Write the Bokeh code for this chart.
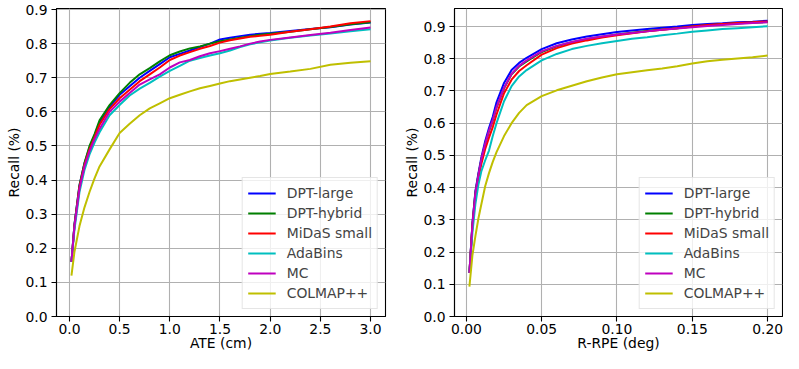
from bokeh.plotting import figure
from bokeh.layouts import row
from bokeh.models import Range1d, FixedTicker, Legend, LegendItem, NumeralTickFormatter
from bokeh.embed import file_html
from bokeh.resources import INLINE

methods = ["DPT-large", "DPT-hybrid", "MiDaS small", "AdaBins", "MC", "COLMAP++"]
colors = ["#0000ff", "#008000", "#ff0000", "#00bfbf", "#bf00bf", "#bfbf00"]

# ---- ATE (cm) ----
ate_x = [0.02, 0.05, 0.1, 0.15, 0.2, 0.25, 0.3, 0.4, 0.5, 0.6, 0.7, 0.8, 0.9, 1.0, 1.1, 1.2,
         1.3, 1.4, 1.5, 1.6, 1.7, 1.8, 1.9, 2.0, 2.2, 2.4, 2.6, 2.8, 3.0]
ate_dpt_large = [0.16, 0.27, 0.385, 0.45, 0.495, 0.53, 0.57, 0.615, 0.65, 0.675, 0.70, 0.72, 0.74,
                 0.76, 0.77, 0.78, 0.79, 0.80, 0.812, 0.817, 0.822, 0.826, 0.829, 0.831, 0.837,
                 0.843, 0.848, 0.856, 0.862]
ate_dpt_hybrid = [0.16, 0.27, 0.385, 0.45, 0.50, 0.535, 0.575, 0.62, 0.655, 0.685, 0.71, 0.728,
                  0.748, 0.766, 0.777, 0.786, 0.792, 0.80, 0.807, 0.812, 0.817, 0.822, 0.826,
                  0.829, 0.835, 0.842, 0.849, 0.857, 0.863]
ate_midas_small = [0.16, 0.265, 0.38, 0.445, 0.49, 0.525, 0.562, 0.608, 0.64, 0.665, 0.69, 0.71,
                   0.73, 0.752, 0.765, 0.775, 0.785, 0.793, 0.803, 0.81, 0.815, 0.82, 0.823,
                   0.826, 0.835, 0.842, 0.85, 0.86, 0.866]
ate_adabins = [0.16, 0.255, 0.365, 0.43, 0.475, 0.51, 0.54, 0.59, 0.62, 0.648, 0.668, 0.685,
               0.703, 0.72, 0.735, 0.75, 0.758, 0.765, 0.772, 0.78, 0.79, 0.798, 0.804, 0.809,
               0.817, 0.824, 0.83, 0.836, 0.842]
ate_mc = [0.16, 0.265, 0.375, 0.44, 0.485, 0.52, 0.55, 0.60, 0.63, 0.655, 0.68, 0.695, 0.71,
          0.73, 0.745, 0.752, 0.763, 0.772, 0.778, 0.785, 0.792, 0.80, 0.806, 0.811, 0.818,
          0.825, 0.832, 0.84, 0.847]
ate_colmap = [0.12, 0.19, 0.265, 0.32, 0.365, 0.405, 0.44, 0.49, 0.538, 0.565, 0.59, 0.61, 0.625,
              0.64, 0.65, 0.66, 0.669, 0.676, 0.683, 0.69, 0.695, 0.70, 0.705, 0.711, 0.718,
              0.726, 0.738, 0.744, 0.748]

# ---- R-RPE (deg) ----
rpe_x = [0.002, 0.004, 0.006, 0.008, 0.01, 0.0125, 0.015, 0.0175, 0.02, 0.025, 0.03, 0.035, 0.04,
         0.05, 0.06, 0.07, 0.08, 0.09, 0.1, 0.11, 0.12, 0.13, 0.14, 0.15, 0.16, 0.17, 0.18, 0.19, 0.2]
rpe_dpt_large = [0.135, 0.29, 0.39, 0.445, 0.495, 0.545, 0.585, 0.62, 0.665, 0.725, 0.765, 0.787,
                 0.803, 0.83, 0.848, 0.86, 0.869, 0.876, 0.883, 0.888, 0.892, 0.896, 0.9, 0.905,
                 0.908, 0.91, 0.913, 0.915, 0.918]
rpe_dpt_hybrid = [0.135, 0.285, 0.385, 0.44, 0.488, 0.535, 0.575, 0.608, 0.648, 0.708, 0.752,
                  0.776, 0.792, 0.821, 0.839, 0.851, 0.861, 0.868, 0.875, 0.881, 0.886, 0.891,
                  0.895, 0.9, 0.904, 0.907, 0.91, 0.912, 0.914]
rpe_midas_small = [0.135, 0.28, 0.375, 0.43, 0.475, 0.52, 0.555, 0.588, 0.627, 0.693, 0.735, 0.762,
                   0.78, 0.813, 0.833, 0.847, 0.857, 0.866, 0.873, 0.879, 0.885, 0.89, 0.895, 0.9,
                   0.905, 0.908, 0.911, 0.913, 0.916]
rpe_adabins = [0.135, 0.26, 0.35, 0.41, 0.452, 0.485, 0.515, 0.56, 0.6, 0.668, 0.715, 0.745,
               0.765, 0.795, 0.815, 0.83, 0.84, 0.848, 0.855, 0.862, 0.867, 0.873, 0.878, 0.884,
               0.888, 0.892, 0.895, 0.898, 0.901]
rpe_mc = [0.135, 0.285, 0.385, 0.44, 0.49, 0.537, 0.577, 0.61, 0.65, 0.71, 0.753, 0.778, 0.795,
          0.823, 0.84, 0.852, 0.862, 0.869, 0.875, 0.88, 0.885, 0.89, 0.894, 0.898, 0.902,
          0.905, 0.908, 0.911, 0.913]
rpe_colmap = [0.093, 0.19, 0.25, 0.305, 0.35, 0.405, 0.445, 0.48, 0.51, 0.56, 0.60, 0.632, 0.656,
              0.684, 0.702, 0.716, 0.73, 0.742, 0.752, 0.758, 0.764, 0.77, 0.777, 0.785, 0.792,
              0.797, 0.801, 0.805, 0.81]

ate_ticks = [0.0, 0.5, 1.0, 1.5, 2.0, 2.5, 3.0]
rpe_ticks = [0.0, 0.05, 0.1, 0.15, 0.2]
recall_ticks = [0.0, 0.1, 0.2, 0.3, 0.4, 0.5, 0.6, 0.7, 0.8, 0.9]

FONT = "DejaVu Sans"
FS = "13.9px"


def make_fig(width, left_border, right_border, xr, yr, xticks, xfmt, xlabel, series, xs):
    p = figure(width=width, height=353, output_backend="svg", toolbar_location=None,
               x_range=Range1d(*xr), y_range=Range1d(*yr),
               min_border_left=left_border, min_border_right=right_border,
               min_border_top=8, min_border_bottom=37)
    p.background_fill_color = "white"
    p.border_fill_color = "white"
    p.outline_line_color = "black"
    p.outline_line_width = 1.1
    p.outline_line_alpha = 1.0
    for ax in (p.xaxis[0], p.yaxis[0]):
        ax.axis_line_color = "black"
        ax.axis_line_width = 1.1
        ax.major_tick_line_color = "black"
        ax.major_tick_line_width = 1.1
        ax.major_tick_out = 5
        ax.major_tick_in = 0
        ax.minor_tick_line_color = None
        ax.major_label_text_font = FONT
        ax.major_label_text_font_size = FS
        ax.major_label_text_color = "black"
        ax.axis_label_text_font = FONT
        ax.axis_label_text_font_size = FS
        ax.axis_label_text_font_style = "normal"
        ax.axis_label_text_color = "black"
    p.xaxis[0].ticker = FixedTicker(ticks=xticks)
    p.xaxis[0].formatter = NumeralTickFormatter(format=xfmt)
    p.xaxis[0].axis_label = xlabel
    p.xaxis[0].major_label_standoff = 2
    p.xaxis[0].axis_label_standoff = -2
    p.yaxis[0].ticker = FixedTicker(ticks=recall_ticks)
    p.yaxis[0].formatter = NumeralTickFormatter(format="0.0")
    p.yaxis[0].axis_label = "Recall (%)"
    p.yaxis[0].major_label_standoff = 4
    p.yaxis[0].axis_label_standoff = 0
    for g in (p.xgrid[0], p.ygrid[0]):
        g.grid_line_color = "#b0b0b0"
        g.grid_line_width = 1.1
    items = []
    for name, col, ys in zip(methods, colors, series):
        r = p.line(xs, ys, line_color=col, line_width=2)
        items.append(LegendItem(label=name, renderers=[r]))
    leg = Legend(items=items, location="bottom_right")
    leg.label_text_font = FONT
    leg.label_text_font_size = FS
    leg.label_height = 20
    leg.glyph_height = 20
    leg.glyph_width = 28
    leg.label_standoff = 11
    leg.spacing = 0
    leg.padding = 5
    leg.margin = 7
    leg.border_line_color = "#cccccc"
    leg.border_line_width = 1
    leg.background_fill_color = "white"
    leg.background_fill_alpha = 0.8
    p.add_layout(leg, "center")
    return p


p1 = make_fig(401, 56, 16, (-0.129, 3.149), (0.0, 0.903), ate_ticks, "0.0", "ATE (cm)",
              [ate_dpt_large, ate_dpt_hybrid, ate_midas_small, ate_adabins, ate_mc, ate_colmap],
              ate_x)
p2 = make_fig(382, 52, 1, (-0.0079, 0.2099), (0.0, 0.956), rpe_ticks, "0.00", "R-RPE (deg)",
              [rpe_dpt_large, rpe_dpt_hybrid, rpe_midas_small, rpe_adabins, rpe_mc, rpe_colmap],
              rpe_x)

layout = row(p1, p2, spacing=0)
open("out.html", "w").write(file_html(layout, INLINE))
